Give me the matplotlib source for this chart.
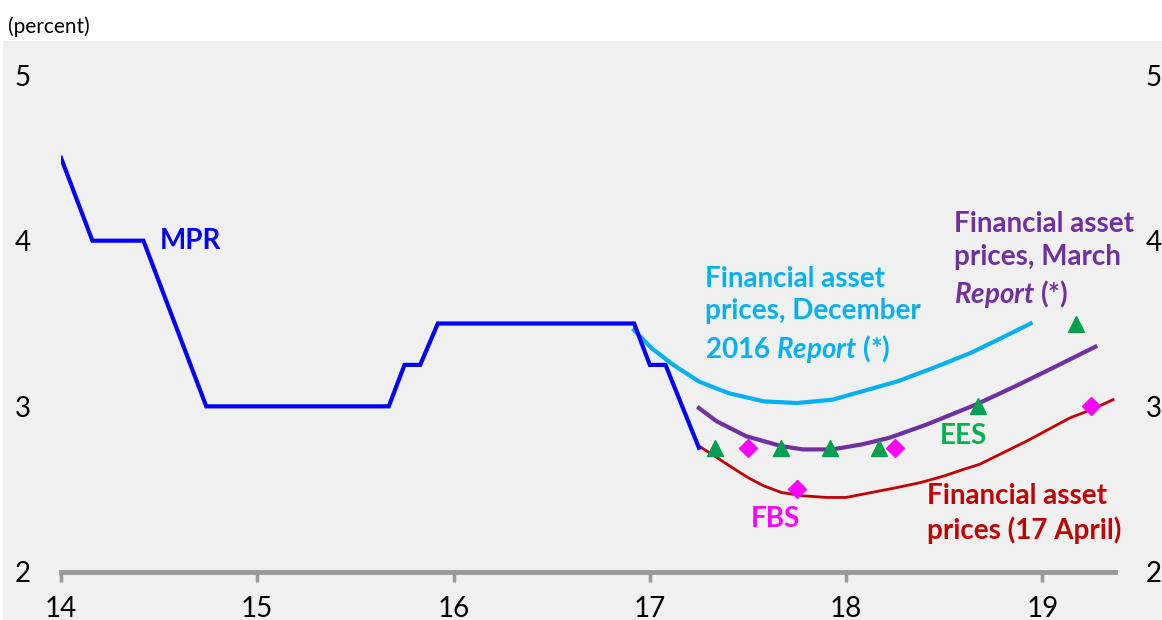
import matplotlib
matplotlib.use("Agg")
import matplotlib.pyplot as plt
from matplotlib.patches import Rectangle

plt.rcParams['font.family'] = ['Lato', 'DejaVu Sans']
plt.rcParams['mathtext.fontset'] = 'custom'
plt.rcParams['mathtext.it'] = 'Lato:italic:bold'
plt.rcParams['mathtext.rm'] = 'Lato:bold'

# monetary policy rate (vertices of the monthly series)
mpr_x = [14.0, 14.16, 14.42, 14.74, 15.67, 15.75, 15.83, 15.92, 16.92, 17.0, 17.08, 17.25]
mpr_y = [4.5, 4.0, 4.0, 3.0, 3.0, 3.25, 3.25, 3.5, 3.5, 3.25, 3.25, 2.75]

# financial asset prices, December 2016 Report
dec_x = [16.92, 17.01, 17.12, 17.25, 17.40, 17.58, 17.75, 17.93, 18.08, 18.26, 18.44, 18.63, 18.77, 18.94]
dec_y = [3.46, 3.35, 3.25, 3.15, 3.08, 3.03, 3.02, 3.04, 3.09, 3.15, 3.23, 3.32, 3.40, 3.50]

# financial asset prices, March Report
mar_x = [17.25, 17.34, 17.49, 17.67, 17.78, 17.93, 18.08, 18.22, 18.41, 18.66, 18.86, 19.05, 19.27]
mar_y = [2.99, 2.91, 2.82, 2.76, 2.74, 2.74, 2.77, 2.81, 2.89, 3.01, 3.12, 3.23, 3.36]

# financial asset prices, 17 April
apr_x = [17.25, 17.33, 17.42, 17.50, 17.58, 17.67, 17.78, 17.90, 18.00, 18.13, 18.26, 18.38,
         18.50, 18.60, 18.68, 18.80, 18.92, 19.03, 19.14, 19.25, 19.36]
apr_y = [2.76, 2.70, 2.63, 2.57, 2.52, 2.48, 2.46, 2.45, 2.45, 2.48, 2.51, 2.54,
         2.58, 2.62, 2.65, 2.72, 2.79, 2.86, 2.93, 2.98, 3.04]

# surveys
ees_x = [17.33, 17.67, 17.92, 18.17, 18.67, 19.17]
ees_y = [2.75, 2.75, 2.75, 2.75, 3.0, 3.5]
fbs_x = [17.5, 17.75, 18.25, 19.25]
fbs_y = [2.75, 2.5, 2.75, 3.0]

xticks = [14, 15, 16, 17, 18, 19]
yticks = [2, 3, 4, 5]

fig = plt.figure(figsize=(11.62, 6.2), dpi=100)
fig.patch.set_facecolor('white')
fig.patches.append(Rectangle((3 / 1162, 0), 1, 1 - 41 / 620, transform=fig.transFigure,
                             facecolor='#F0F0F0', edgecolor='none', zorder=0))

ax = fig.add_axes([61 / 1162, 48 / 620, (1115 - 61) / 1162, (572 - 75) / 620])
ax.set_zorder(2)
ax.set_facecolor('none')

ax.plot(mpr_x, mpr_y, color='#0000FF', lw=3, solid_joinstyle='miter', zorder=3)
ax.plot(dec_x, dec_y, color='#00B0F0', lw=3, zorder=2)
ax.plot(mar_x, mar_y, color='#7030A0', lw=3, zorder=2)
ax.plot(apr_x, apr_y, color='#C00000', lw=2, zorder=2)
ax.plot(ees_x, ees_y, ls='none', marker='^', ms=12, color='#00A050', zorder=4)
ax.plot(fbs_x, fbs_y, ls='none', marker='D', ms=9, color='#FF00FF', zorder=4)

fs = 20
ls = 1.33
ax.text(14.505, 4.0, 'MPR', color='#0000FF', fontsize=fs, fontweight='bold', va='center')
ax.text(17.28, 3.85, 'Financial asset\nprices, December\n2016 $\\mathit{Report}$ (*)',
        color='#00B0F0', fontsize=fs, fontweight='bold', va='top', linespacing=ls)
ax.text(18.55, 4.18, 'Financial asset\nprices, March\n$\\mathit{Report}$ (*)',
        color='#7030A0', fontsize=fs, fontweight='bold', va='top', linespacing=ls)
ax.text(18.41, 2.54, 'Financial asset\nprices (17 April)',
        color='#C00000', fontsize=fs, fontweight='bold', va='top', linespacing=ls)
ax.text(18.60, 2.82, 'EES', color='#00B050', fontsize=fs, fontweight='bold', ha='center', va='center')
ax.text(17.64, 2.32, 'FBS', color='#FF00FF', fontsize=fs, fontweight='bold', ha='center', va='center')

ax.set_xlim(14, 19.37)
ax.set_ylim(2, 5)
ax.set_xticks(xticks)
ax.set_yticks(yticks)
for s in ['top', 'left', 'right']:
    ax.spines[s].set_visible(False)
ax.spines['bottom'].set_color('#999999')
ax.spines['bottom'].set_linewidth(3.5)
ax.tick_params(axis='x', colors='#999999', length=7, width=2.5, labelsize=20, labelcolor='black', pad=10)
ax.tick_params(axis='y', length=0, labelsize=20, labelleft=True, labelright=True, pad=22)

fig.text(8 / 1162, 1 - 27 / 620, '(percent)', fontsize=15, va='center')

fig.savefig('out.png', dpi=100)
